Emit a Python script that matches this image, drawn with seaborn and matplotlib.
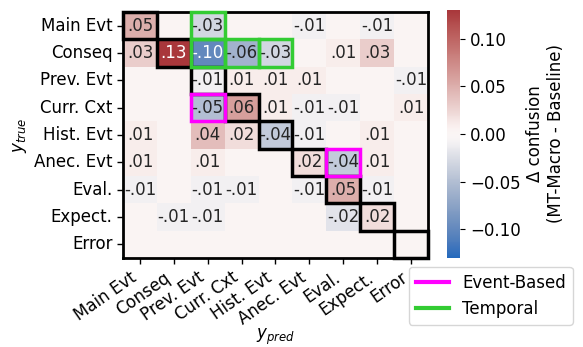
import numpy as np
import pandas as pd
import seaborn as sns
import matplotlib
matplotlib.use("Agg")
import matplotlib.pyplot as plt
from matplotlib.patches import Rectangle
from matplotlib.lines import Line2D

labels = ["Main Evt", "Conseq", "Prev. Evt", "Curr. Cxt", "Hist. Evt",
          "Anec. Evt", "Eval.", "Expect.", "Error"]

b = 0.003  # near-zero (blank) cells
row_main = [0.05, b, -0.03, b, b, -0.01, b, -0.01, b]
row_conseq = [0.03, 0.13, -0.10, -0.06, -0.03, b, 0.01, 0.03, b]
row_prev = [b, b, -0.01, 0.01, 0.01, 0.01, b, b, -0.01]
row_curr = [b, b, -0.05, 0.06, 0.01, -0.01, -0.01, b, 0.01]
row_hist = [0.01, b, 0.04, 0.02, -0.04, -0.01, b, 0.01, b]
row_anec = [0.01, b, 0.01, b, b, 0.02, -0.04, 0.01, b]
row_eval = [-0.01, b, -0.01, -0.01, b, -0.01, 0.05, -0.01, b]
row_expect = [b, -0.01, -0.01, b, b, b, -0.02, 0.02, b]
row_error = [b, b, b, b, b, b, b, b, b]

event_based = [(3, 2), (5, 6)]            # (row, col)
temporal = [(0, 2), (1, 2), (1, 3), (1, 4)]

mat = np.array([row_main, row_conseq, row_prev, row_curr, row_hist,
                row_anec, row_eval, row_expect, row_error])
df = pd.DataFrame(mat, index=labels, columns=labels)


def fmt(v):
    if abs(v) < 0.005:
        return ""
    s = f"{v:.2f}"
    return s.replace("0.", ".", 1)


annot = np.vectorize(fmt)(mat)

fig = plt.figure(figsize=(5.83, 3.47), dpi=100)
ax = fig.add_axes([0.211, 0.2565, 0.523, 0.709])
cax = fig.add_axes([0.767, 0.2565, 0.0223, 0.715])

sns.heatmap(df, ax=ax, cbar_ax=cax, cmap="vlag", vmin=-0.13, vmax=0.13,
            annot=annot, fmt="", annot_kws={"size": 12})

for i in range(len(labels)):
    ax.add_patch(Rectangle((i, i), 1, 1, fill=False, ec="black", lw=2.5,
                           clip_on=False, zorder=5))
for r, c in temporal:
    ax.add_patch(Rectangle((c, r), 1, 1, fill=False, ec="#33cc33", lw=2.5,
                           clip_on=False, zorder=6))
for r, c in event_based:
    ax.add_patch(Rectangle((c, r), 1, 1, fill=False, ec="#ff00ff", lw=2.5,
                           clip_on=False, zorder=6))

for s in ax.spines.values():
    s.set_visible(True)
    s.set_linewidth(2)
    s.set_color("black")

ax.tick_params(axis="both", labelsize=12, length=4, width=1)
ax.set_yticklabels(labels, rotation=0)
ax.set_xticklabels(labels, rotation=35, ha="right")
ax.set_xlabel("$y_{pred}$", fontsize=12, labelpad=-1)
ax.set_ylabel("$y_{true}$", fontsize=12)

cbar = ax.collections[0].colorbar
cbar.outline.set_visible(False)
cbar.set_ticks([-0.10, -0.05, 0.0, 0.05, 0.10])
cbar.ax.tick_params(labelsize=12)
cbar.set_label("Δ confusion\n(MT-Macro - Baseline)", fontsize=12)

handles = [Line2D([0], [0], color="#ff00ff", lw=3, label="Event-Based"),
           Line2D([0], [0], color="#33cc33", lw=3, label="Temporal")]
fig.legend(handles=handles, loc="upper left", bbox_to_anchor=(0.7015, 0.2305),
           fontsize=12, frameon=True, borderaxespad=0)

fig.savefig("out.png", dpi=100)
